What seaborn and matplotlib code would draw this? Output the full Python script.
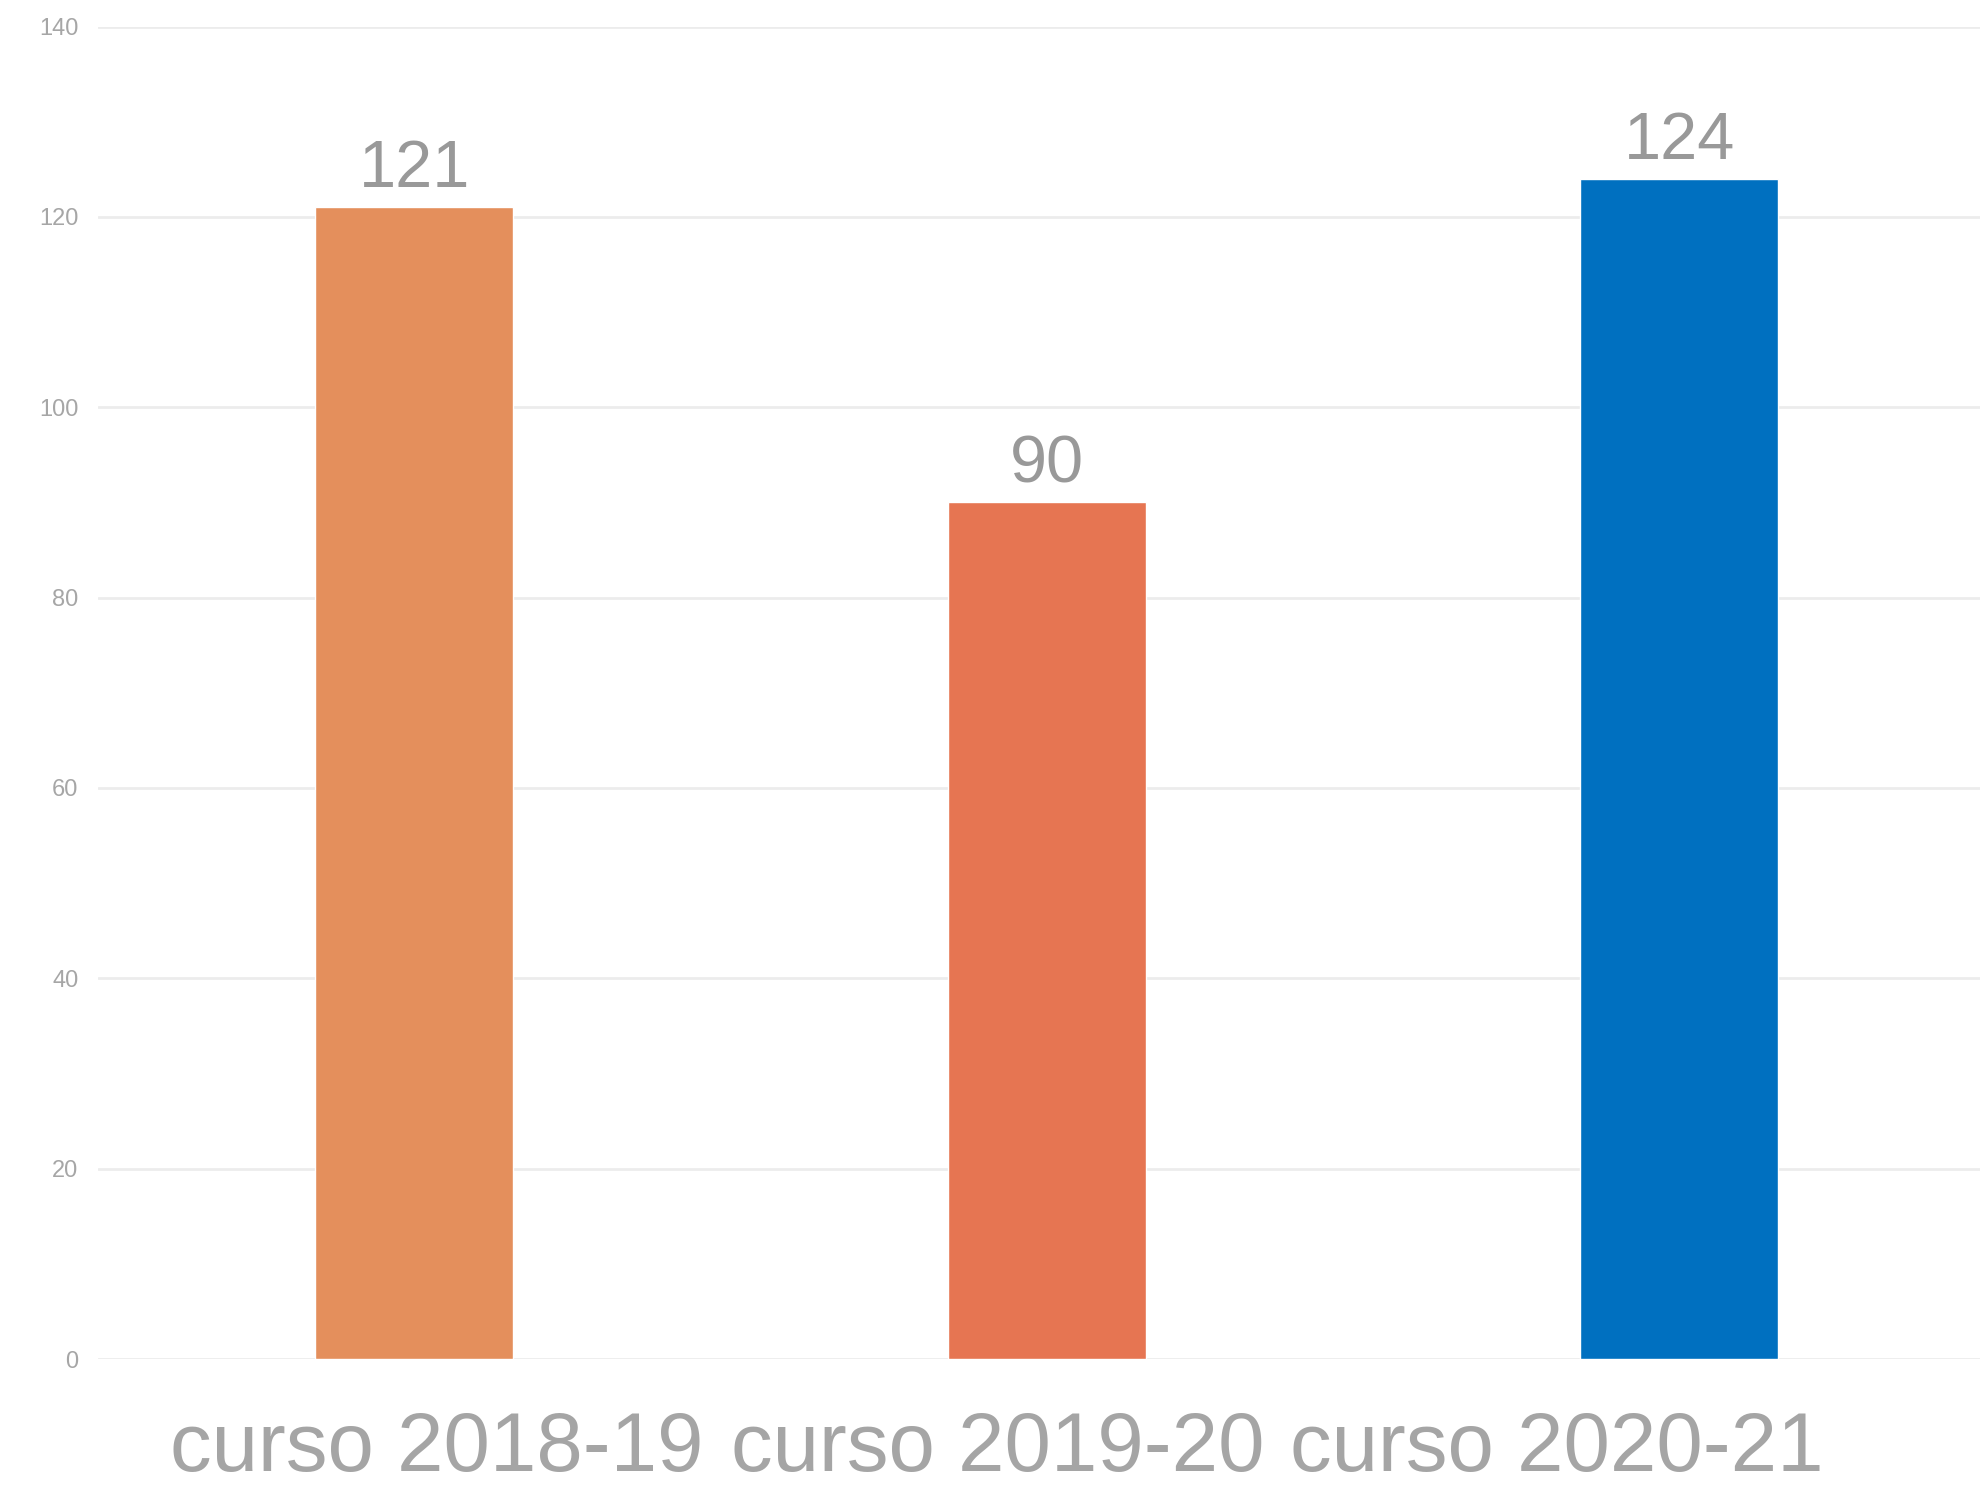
import matplotlib
matplotlib.use("Agg")
import matplotlib.pyplot as plt
import seaborn as sns
import pandas as pd

cursos = ["curso 2018-19", "curso 2019-20", "curso 2020-21"]
alumnos = [121, 90, 124]
colores = ["#E48F5C", "#E67552", "#0070C0"]
y_ticks = [0, 20, 40, 60, 80, 100, 120, 140]

df = pd.DataFrame({"curso": cursos, "alumnos": alumnos})

sns.set_style("white")
plt.rcParams["font.family"] = ["Liberation Sans", "DejaVu Sans"]

fig = plt.figure(figsize=(19.81, 14.94), dpi=100)
ax = fig.add_axes([98 / 1981, 1 - 1359 / 1494, 1 - 98 / 1981, (1359 - 26.5) / 1494])

sns.barplot(data=df, x="curso", y="alumnos", hue="curso", palette=colores,
            width=0.313, legend=False, saturation=1, ax=ax)

ax.set_xlim(-0.5, 2.477)
ax.set_ylim(0, 140)
ax.set_yticks(y_ticks)
ax.set_yticklabels([str(t) for t in y_ticks], fontsize=17, color="#a6a6a6")
ax.yaxis.grid(True, color="#ececec", linewidth=2)
ax.set_axisbelow(True)
ax.tick_params(axis="y", length=0, pad=14)

# etiquetas de categoría en fila, como en el original
ax.set_xticks([0.036, 0.923, 1.807])
ax.set_xticklabels(cursos, fontsize=60, color="#a5a5a5")
ax.tick_params(axis="x", length=0, pad=37)

ax.set_xlabel("")
ax.set_ylabel("")
for s in ax.spines.values():
    s.set_visible(False)

for i, v in enumerate(alumnos):
    ax.text(i, v + 2.1, str(v), ha="center", va="baseline", fontsize=48, color="#999999")

plt.savefig("out.png", dpi=100)
plt.close()
